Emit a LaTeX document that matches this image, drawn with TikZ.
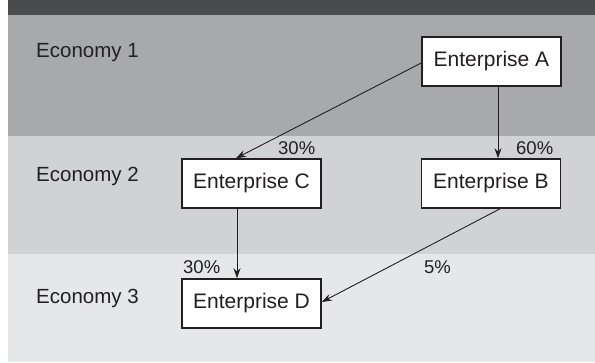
\documentclass[tikz,border=0pt]{standalone}
\usepackage{fontspec}
\setmainfont{Liberation Sans}
\usetikzlibrary{arrows.meta}
\definecolor{topband}{HTML}{4A4B4D}
\definecolor{bandone}{HTML}{A8A9AB}
\definecolor{bandtwo}{HTML}{D1D2D4}
\definecolor{bandthree}{HTML}{E6E7E8}
\definecolor{ink}{HTML}{231F20}
\tikzset{
  entbox/.style={draw=ink, line width=1.6pt, fill=white, minimum width=139pt, minimum height=49pt, inner sep=0pt, text=ink, font=\fontsize{21}{25}\selectfont},
  econlabel/.style={anchor=base west, inner sep=0pt, text=ink, font=\fontsize{20.5}{24}\selectfont},
  pctlabel/.style={anchor=base west, inner sep=0pt, text=ink, font=\fontsize{18.5}{22}\selectfont},
  flow/.style={draw=ink, line width=0.9pt, -{Stealth[length=10pt,width=7pt]}}
}
\begin{document}
\begin{tikzpicture}[x=1pt,y=-1pt]
\useasboundingbox (0,0) rectangle (595,362);
\fill[white] (0,0) rectangle (595,362);
\fill[topband] (8,0) rectangle (595,15);
\fill[bandone] (8,15) rectangle (595,136);
\fill[bandtwo] (8,136) rectangle (595,254);
\fill[bandthree] (8,254) rectangle (595,362);

\node[econlabel] (e1) at (36,57.4) {Economy 1};
\node[econlabel] (e2) at (36,181.4) {Economy 2};
\node[econlabel] (e3) at (36,303) {Economy 3};

\node[entbox] (A) at (491.5,61.5) {Enterprise A};
\node[entbox] (B) at (491,183.5) {Enterprise B};
\node[entbox] (C) at (251.5,183.5) {Enterprise C};
\node[entbox] (D) at (251.5,303.5) {Enterprise D};

\draw[flow] ([yshift=-1.5pt]A.west) -- ([xshift=-15.5pt]C.north);
\draw[flow] ([xshift=6.5pt]A.south) -- ([xshift=7pt]B.north);
\draw[flow] ([xshift=-14.5pt]C.south) -- ([xshift=-14.5pt]D.north);
\draw[flow] ([xshift=9pt]B.south) -- ([yshift=1.5pt]D.east);

\node[pctlabel] (pc) at (278,154) {30\%};
\node[pctlabel] (pb) at (516,154.3) {60\%};
\node[pctlabel] (pd) at (183,273.3) {30\%};
\node[pctlabel] (p5) at (424,273.3) {5\%};
\end{tikzpicture}
\end{document}
